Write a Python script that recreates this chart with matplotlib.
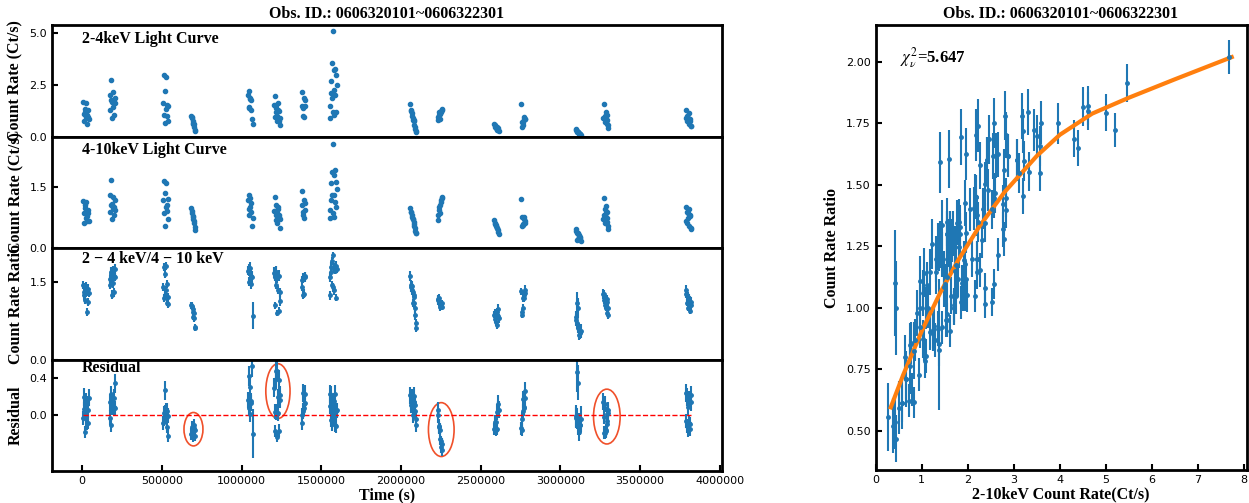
import matplotlib
matplotlib.use("Agg")
import matplotlib.pyplot as plt
import numpy as np
from matplotlib.patches import Ellipse

plt.rcParams["mathtext.fontset"] = "stix"

SERIF = "Liberation Serif"
BLUE = "#1f77b4"
ORANGE = "#ff7f0e"

TITLE = "Obs. ID.: 0606320101~0606322301"

# start time of each observation (s), time bin (s) and exposure per bin (s)
OBS_START = [7000, 174000, 508500, 683000, 1040500, 1070000, 1204000, 1377000,
             1553000, 2058000, 2231000, 2587000, 2755500, 3097500, 3269000, 3788000]
TIME_BIN = 3000
OBS_EXPOSURE = [500, 500, 500, 500, 500, 30, 500, 500,
                500, 500, 500, 500, 500, 250, 500, 500]

# 2-4 keV count rates (Ct/s), one list per observation
RATE_24 = [
    [1.68, 1.11, 0.78, 1.36, 1.21, 0.95, 1.62, 0.61, 1.05, 1.28, 0.95, 0.87],
    [1.29, 2.02, 1.79, 2.74, 1.70, 0.89, 2.17, 1.45, 1.64, 1.04, 1.89, 1.63],
    [1.65, 2.97, 1.04, 2.22, 0.68, 1.36, 2.91, 0.99, 1.54, 0.77, 1.46],
    [1.02, 0.89, 0.94, 0.77, 0.62, 0.65, 0.59, 0.49, 0.32, 0.28],
    [2.03, 1.43, 2.21, 1.41, 1.89, 1.80, 1.28, 1.78, 0.86],
    [0.63],
    [1.55, 0.97, 1.98, 1.17, 1.52, 1.38, 0.77, 0.98, 1.28, 1.62, 0.76, 1.22, 0.91, 0.56],
    [1.47, 2.17, 1.01, 1.39, 1.89, 0.93, 1.49, 1.78],
    [1.49, 0.91, 2.70, 2.12, 1.89, 3.58, 1.19, 5.13, 3.21, 2.28, 1.04, 3.29, 2.03, 1.20, 2.97, 2.52],
    [1.57, 1.29, 1.25, 1.14, 1.01, 0.91, 0.79, 0.79, 0.75, 0.58, 0.48, 0.36, 0.27, 0.22],
    [0.79, 0.94, 1.20, 1.04, 0.86, 1.10, 1.23, 1.20, 1.28, 1.34],
    [0.60, 0.47, 0.56, 0.40, 0.49, 0.32, 0.46, 0.44, 0.34, 0.28],
    [1.57, 0.69, 0.48, 0.57, 0.72, 0.84, 0.96, 0.87, 0.83],
    [0.38, 0.32, 0.22, 0.27, 0.22, 0.22, 0.19, 0.14, 0.15, 0.13, 0.10],
    [0.89, 1.56, 0.92, 1.00, 0.70, 1.18, 0.85, 0.82, 1.05, 0.59, 0.55, 0.40],
    [0.89, 1.29, 0.76, 0.98, 0.85, 0.89, 1.14, 0.63, 0.74, 0.84, 0.53, 0.51],
]

# 4-10 keV count rates (Ct/s), same bins
RATE_410 = [
    [1.16, 0.85, 0.62, 0.97, 1.05, 0.73, 1.14, 0.66, 0.79, 0.93, 0.85, 0.67],
    [0.89, 1.30, 1.05, 1.66, 1.09, 0.71, 1.26, 0.98, 1.01, 0.80, 1.18, 0.93],
    [1.18, 1.65, 0.87, 1.34, 0.54, 1.01, 1.60, 0.90, 1.05, 0.71, 1.20],
    [0.97, 0.85, 0.92, 0.79, 0.75, 0.71, 0.66, 0.61, 0.52, 0.45],
    [1.18, 0.95, 1.30, 0.81, 1.22, 1.01, 0.88, 1.10, 0.54],
    [0.74],
    [0.92, 0.92, 1.24, 0.69, 1.05, 0.81, 0.85, 0.61, 0.95, 1.00, 0.80, 0.75, 0.70, 0.49],
    [1.05, 1.40, 0.81, 0.88, 1.18, 0.73, 0.93, 1.10],
    [0.93, 0.73, 1.60, 1.18, 1.30, 1.87, 0.85, 2.54, 1.79, 1.30, 0.77, 1.91, 1.14, 1.00, 1.63, 1.44],
    [0.97, 0.89, 0.89, 0.80, 0.75, 0.70, 0.72, 0.65, 0.60, 0.53, 0.48, 0.42, 0.38, 0.36],
    [0.69, 0.80, 1.00, 0.93, 0.85, 1.05, 1.14, 1.18, 1.25, 1.22],
    [0.69, 0.60, 0.62, 0.55, 0.57, 0.48, 0.50, 0.45, 0.40, 0.35],
    [1.19, 0.75, 0.55, 0.57, 0.60, 0.70, 0.77, 0.67, 0.62],
    [0.46, 0.42, 0.20, 0.38, 0.22, 0.36, 0.32, 0.30, 0.28, 0.25, 0.18],
    [0.70, 1.22, 0.80, 0.95, 0.61, 1.03, 0.85, 0.73, 0.89, 0.65, 0.55, 0.46],
    [0.66, 1.01, 0.61, 0.89, 0.85, 0.73, 0.95, 0.55, 0.78, 0.80, 0.50, 0.46],
]

# best-fit ratio vs total rate relation
FIT_RATE = [0.33, 0.6, 1.0, 1.4, 1.8, 2.25, 2.8, 3.5, 4.0, 4.7, 5.5, 6.5, 7.73]
FIT_RATIO = [0.595, 0.727, 0.904, 1.060, 1.196, 1.330, 1.471, 1.618, 1.704,
             1.79, 1.855, 1.93, 2.02]
CHI2_TEXT = r"$\chi^2_\nu$=5.647"

# observations highlighted in the residual panel
HIGHLIGHT_TIME = [698000, 1228000, 2253000, 3292000]
HIGHLIGHT_RESID = [-0.15, 0.26, -0.154, -0.014]
HIGHLIGHT_WIDTH = [119000, 152000, 161000, 167000]
HIGHLIGHT_HEIGHT = [0.36, 0.59, 0.58, 0.59]


def flatten():
    t, r24, r410, expo = [], [], [], []
    for start, a, b, e in zip(OBS_START, RATE_24, RATE_410, OBS_EXPOSURE):
        t += [start + k * TIME_BIN for k in range(len(a))]
        r24 += a
        r410 += b
        expo += [e] * len(a)
    return np.array(t), np.array(r24), np.array(r410), np.array(expo, float)


def style_axis(ax):
    for sp in ax.spines.values():
        sp.set_linewidth(2)
    ax.tick_params(direction="in", labelsize=8, width=1.5, length=4)


time, r24, r410, expo = flatten()
ratio = r24 / r410
ratio_err = ratio * np.sqrt(1 / (r24 * expo) + 1 / (r410 * expo))
total = r24 + r410
resid = ratio - np.interp(total, FIT_RATE, FIT_RATIO)

fig = plt.figure(figsize=(12.49, 5.03), dpi=100)
x0, w = 0.0416, 0.5365
bottom, top = 0.0636, 0.950
h = (top - bottom) / 4
axes = [fig.add_axes([x0, top - (i + 1) * h, w, h]) for i in range(4)]
for ax in axes:
    style_axis(ax)
    ax.set_xlim(-190000, 4015000)
lab = dict(fontsize=11.5, fontweight="bold", family=SERIF)

ax = axes[0]
ax.plot(time, r24, "o", color=BLUE, ms=3)
ax.set_ylim(0, 5.4)
ax.set_yticks([0, 2.5, 5.0])
ax.set_ylabel("Count Rate (Ct/s)", **lab)
ax.text(0.045, 0.88, "2-4keV Light Curve", transform=ax.transAxes, va="center", **lab)
ax.set_title(TITLE, pad=5, **lab)

ax = axes[1]
ax.plot(time, r410, "o", color=BLUE, ms=3)
ax.set_ylim(0, 2.73)
ax.set_yticks([0, 1.5])
ax.set_ylabel("Count Rate (Ct/s)", **lab)
ax.text(0.045, 0.88, "4-10keV Light Curve", transform=ax.transAxes, va="center", **lab)

ax = axes[2]
ax.errorbar(time, ratio, yerr=ratio_err, fmt="o", color=BLUE, ms=2.5, elinewidth=1.5)
ax.set_ylim(0, 2.16)
ax.set_yticks([0, 1.5])
ax.set_ylabel("Count Rate Ratio", **lab)
ax.text(0.045, 0.9, "2 \u2212 4 keV/4 \u2212 10 keV", transform=ax.transAxes, va="center", **lab)

ax = axes[3]
ax.errorbar(time, resid, yerr=ratio_err, fmt="o", color=BLUE, ms=2.5, elinewidth=1.5)
ax.plot([time.min(), time.max()], [0, 0], "--", color="red", lw=1)
for tc, rc, ew, eh in zip(HIGHLIGHT_TIME, HIGHLIGHT_RESID, HIGHLIGHT_WIDTH, HIGHLIGHT_HEIGHT):
    ax.add_patch(Ellipse((tc, rc), ew, eh, fill=False, edgecolor="#f0502a", lw=1.2))
ax.set_ylim(-0.6, 0.6)
ax.set_yticks([0.0, 0.4])
ax.set_xticks(np.arange(0, 4000001, 500000))
ax.ticklabel_format(axis="x", style="plain", useOffset=False)
ax.set_ylabel("Residual", **lab)
ax.set_xlabel("Time (s)", labelpad=1, **lab)
ax.text(0.045, 0.92, "Residual", transform=ax.transAxes, va="center", **lab)

for ax in axes[:3]:
    ax.tick_params(bottom=False, labelbottom=False)

# ratio vs total count rate
ax = fig.add_axes([0.701, 0.0656, 0.297, 0.8844])
style_axis(ax)
ax.errorbar(total, ratio, yerr=ratio_err, fmt="o", color=BLUE, ms=2.5, elinewidth=1.5)
ax.plot(FIT_RATE, FIT_RATIO, "-", color=ORANGE, lw=3)
ax.set_xlim(0, 8.05)
ax.set_ylim(0.34, 2.15)
ax.set_xticks(range(0, 9))
ax.set_yticks([0.5, 0.75, 1.0, 1.25, 1.5, 1.75, 2.0])
ax.set_xlabel("2-10keV Count Rate(Ct/s)", labelpad=1, **lab)
ax.set_ylabel("Count Rate Ratio", **lab)
ax.set_title(TITLE, pad=5, **lab)
ax.text(0.066, 0.928, CHI2_TEXT, transform=ax.transAxes, va="center",
        fontsize=12, fontweight="bold", family=SERIF)

fig.savefig("out.png", dpi=100)
